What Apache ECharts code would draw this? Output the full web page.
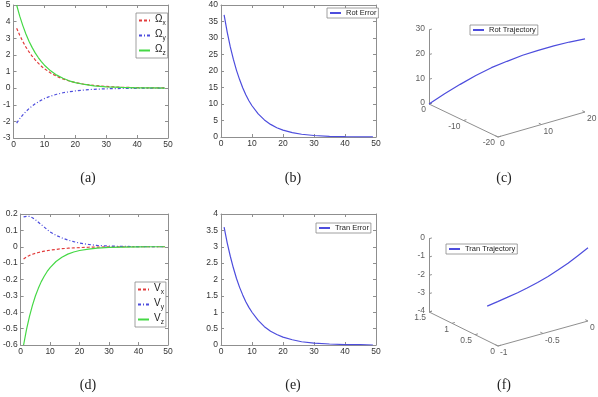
<!DOCTYPE html>
<html>
<head>
<meta charset="utf-8">
<script src="https://cdn.jsdelivr.net/npm/echarts@6/dist/echarts.min.js"></script>
<style>
html, body { margin: 0; padding: 0; background: #fff; }
#chart { width: 598px; height: 397px; }
</style>
</head>
<body>
<div id="chart"></div>
<script>
// time steps shared by the 2D panels
const tSteps = [1, 2, 3, 4, 5, 6, 7, 8, 9, 10, 12, 14, 16, 18, 20, 23, 26, 30, 35, 40, 45, 49]

// (a) angular velocity components
const omegaX = [3.60, 3.18, 2.80, 2.47, 2.18, 1.93, 1.70, 1.50, 1.32, 1.17, 0.91, 0.71, 0.55, 0.43, 0.33, 0.23, 0.16, 0.10, 0.05, 0.03, 0.01, 0.01]
const omegaY = [-2.10, -1.84, -1.61, -1.41, -1.23, -1.08, -0.94, -0.83, -0.72, -0.63, -0.48, -0.37, -0.28, -0.22, -0.17, -0.11, -0.07, -0.04, -0.02, -0.01, 0, 0]
const omegaZ = [5.00, 4.33, 3.76, 3.26, 2.82, 2.45, 2.12, 1.84, 1.59, 1.38, 1.04, 0.78, 0.59, 0.44, 0.33, 0.22, 0.14, 0.08, 0.04, 0.02, 0.01, 0]

// (b) rotation error
const rotError = [37.0, 31.8, 27.3, 23.5, 20.2, 17.4, 14.9, 12.8, 11.0, 9.47, 7.00, 5.17, 3.82, 2.82, 2.08, 1.32, 0.84, 0.46, 0.21, 0.10, 0.05, 0.02]

// (d) linear velocity components
const velX = [-0.075, -0.062, -0.053, -0.046, -0.040, -0.035, -0.031, -0.027, -0.024, -0.021, -0.016, -0.012, -0.009, -0.007, -0.005, -0.003, -0.002, -0.001, 0, 0, 0, 0]
const velY = [0.182, 0.186, 0.185, 0.177, 0.165, 0.150, 0.135, 0.120, 0.105, 0.090, 0.070, 0.054, 0.041, 0.031, 0.022, 0.014, 0.008, 0.004, 0.002, 0.001, 0, 0]
const velZ = [-0.600, -0.505, -0.425, -0.358, -0.301, -0.254, -0.213, -0.180, -0.151, -0.127, -0.090, -0.064, -0.045, -0.032, -0.023, -0.014, -0.008, -0.004, -0.002, -0.001, 0, 0]

// (e) translation error
const tranError = [3.60, 3.12, 2.71, 2.35, 2.03, 1.76, 1.53, 1.32, 1.15, 1.00, 0.75, 0.56, 0.42, 0.32, 0.24, 0.16, 0.10, 0.06, 0.03, 0.01, 0.01, 0]

// (c) rotation trajectory (3D)
const rotTrajX = [0, 2, 4, 6, 8, 10, 12, 14, 16, 18, 20]
const rotTrajY = [0, -2, -4, -6, -8, -10, -12, -14, -16, -18, -20]
const rotTrajZ = [0, 4.5, 8.6, 12.5, 16.0, 18.9, 21.7, 24.0, 26.1, 28.0, 29.6]
const rotXTicks = [0, 10, 20]
const rotYTicks = [-20, -10, 0]
const rotZTicks = [0, 10, 20, 30]

// (f) translation trajectory (3D)
const tranTrajX = [-0.66, -0.59, -0.53, -0.46, -0.40, -0.33, -0.26, -0.20, -0.13, -0.07, 0]
const tranTrajY = [0.90, 0.81, 0.72, 0.63, 0.54, 0.45, 0.36, 0.27, 0.18, 0.09, 0]
const tranTrajZ = [-3.40, -3.14, -2.88, -2.61, -2.32, -2.00, -1.66, -1.29, -0.89, -0.46, 0]
const tranXTicks = [-1, -0.5, 0]
const tranYTicks = [0, 0.5, 1, 1.5]
const tranZTicks = [-4, -3, -2, -1, 0]

const FONT = 'Liberation Sans, Arial, sans-serif'
const AX = '#8f8f8f'
const LAB = '#333'
const RED = '#e23c3c'
const BLUE = '#4d4ddd'
const GREEN = '#45d845'
const TICK_SIZE = 8.5

// oblique projection of the two 3D boxes (pixels inside their grid)
const rotView = { origin: [98, 137], ex: [4.35, -1.25], ey: [-3.45, -1.65], ez: [0, -2.47], min: [0, -20, 0], max: [20, 0, 30] }
const tranView = { origin: [98, 146], ex: [90, -25], ey: [-46, -22.7], ez: [0, -18.3], min: [-1, 0, -4], max: [0, 1.5, 0] }

function proj(v, p) {
  const dx = p[0] - v.min[0], dy = p[1] - v.min[1], dz = p[2] - v.min[2]
  return [
    v.origin[0] + dx * v.ex[0] + dy * v.ey[0] + dz * v.ez[0],
    v.origin[1] + dx * v.ex[1] + dy * v.ey[1] + dz * v.ez[1]
  ]
}

function unit(d, len) {
  const n = Math.hypot(d[0], d[1])
  return [d[0] / n * len, d[1] / n * len]
}

function xAxes(g, min, max, interval) {
  const base = { type: 'value', gridIndex: g, min, max, interval, splitLine: { show: false },
    axisLine: { onZero: false, lineStyle: { color: AX, width: 1 } },
    axisTick: { inside: true, length: 3, lineStyle: { color: AX } } }
  return [
    { ...base, position: 'bottom', axisLabel: { fontSize: TICK_SIZE, color: LAB, margin: 2, fontFamily: FONT, showMinLabel: true, showMaxLabel: true } },
    { ...base, position: 'top', axisLabel: { show: false } }
  ]
}

function yAxes(g, min, max, interval) {
  const base = { type: 'value', gridIndex: g, min, max, interval, splitLine: { show: false },
    axisLine: { onZero: false, lineStyle: { color: AX, width: 1 } },
    axisTick: { inside: true, length: 3, lineStyle: { color: AX } } }
  return [
    { ...base, position: 'left', axisLabel: { fontSize: TICK_SIZE, color: LAB, margin: 3, fontFamily: FONT, showMinLabel: true, showMaxLabel: true } },
    { ...base, position: 'right', axisLabel: { show: false } }
  ]
}

function hiddenAxes(g, w, h) {
  return {
    x: { type: 'value', gridIndex: g, min: 0, max: w, show: false },
    y: { type: 'value', gridIndex: g, min: 0, max: h, inverse: true, show: false }
  }
}

function lineSeries(name, axisIdx, values, color, dash) {
  return {
    name, type: 'line', xAxisIndex: axisIdx, yAxisIndex: axisIdx,
    data: tSteps.map((t, i) => [t, values[i]]),
    symbol: 'none', silent: true,
    lineStyle: { color, width: 1.2, type: dash || 'solid' },
    itemStyle: { color }
  }
}

function box3d(v, axisIdx, xt, yt, zt) {
  const [x0, y0, z0] = v.min
  const [x1, y1, z1] = v.max
  const segs = [
    [proj(v, [x0, y0, z0]), proj(v, [x1, y0, z0])],
    [proj(v, [x0, y0, z0]), proj(v, [x0, y1, z0])],
    [proj(v, [x0, y1, z0]), proj(v, [x0, y1, z1])]
  ]
  const labels = []
  const tx = unit(v.ey, 3), ty = unit(v.ex, 3)
  xt.forEach(t => {
    const p = proj(v, [t, y0, z0])
    segs.push([p, [p[0] + tx[0], p[1] + tx[1]]])
    labels.push({ value: p, label: { formatter: String(t), align: 'left', offset: [2, 7] } })
  })
  yt.forEach(t => {
    const p = proj(v, [x0, t, z0])
    segs.push([p, [p[0] + ty[0], p[1] + ty[1]]])
    labels.push({ value: p, label: { formatter: String(t), align: 'right', offset: [-3, 6] } })
  })
  zt.forEach(t => {
    const p = proj(v, [x0, y1, t])
    segs.push([p, [p[0] + ty[0], p[1] + ty[1]]])
    labels.push({ value: p, label: { formatter: String(t), align: 'right', offset: [-4, -1] } })
  })
  return [
    {
      type: 'lines', coordinateSystem: 'cartesian2d', xAxisIndex: axisIdx, yAxisIndex: axisIdx,
      data: segs.map(s => ({ coords: s })), silent: true,
      lineStyle: { color: AX, width: 1, opacity: 1 }
    },
    {
      type: 'scatter', xAxisIndex: axisIdx, yAxisIndex: axisIdx, symbolSize: 1,
      itemStyle: { color: 'rgba(0,0,0,0)' }, silent: true, data: labels,
      label: { show: true, position: 'inside', verticalAlign: 'middle', fontSize: TICK_SIZE, color: LAB, fontFamily: FONT }
    }
  ]
}

function trajSeries(name, axisIdx, v, xs, ys, zs) {
  return {
    name, type: 'line', xAxisIndex: axisIdx, yAxisIndex: axisIdx,
    data: xs.map((x, i) => proj(v, [x, ys[i], zs[i]])),
    symbol: 'none', silent: true,
    lineStyle: { color: BLUE, width: 1.2 }, itemStyle: { color: BLUE }
  }
}

function legendAt(names, left, top) {
  return {
    data: names, left, top, orient: 'vertical', selectedMode: false,
    itemWidth: 11, itemHeight: 8, itemGap: 2, padding: [1, 2, 1, 2],
    itemStyle: { opacity: 0 },
    borderColor: '#888', borderWidth: 0.8, backgroundColor: '#fff',
    textStyle: {
      fontSize: 7.5, color: '#222', fontFamily: FONT,
      rich: {
        b: { fontSize: 10, color: '#222', fontFamily: FONT, verticalAlign: 'top', lineHeight: 13 },
        s: { fontSize: 6.5, color: '#222', fontFamily: FONT, verticalAlign: 'bottom', lineHeight: 7 }
      }
    },
    formatter: name => name.length === 2 ? '{b|' + name[0] + '}{s|' + name[1] + '}' : name
  }
}

const hc = hiddenAxes(4, 198, 170)
const hf = hiddenAxes(5, 198, 170)

const option = {
  animation: false,
  backgroundColor: '#fff',
  grid: [
    { left: 12, top: 5, width: 156, height: 133 },
    { left: 221, top: 5, width: 155, height: 132 },
    { left: 12, top: 214, width: 156, height: 131 },
    { left: 221, top: 214, width: 155, height: 131 },
    { left: 400, top: 0, width: 198, height: 170 },
    { left: 400, top: 200, width: 198, height: 170 }
  ],
  xAxis: [
    ...xAxes(0, 0, 50, 10), ...xAxes(1, 0, 50, 10), ...xAxes(2, 0, 50, 10), ...xAxes(3, 0, 50, 10),
    hc.x, hf.x
  ],
  yAxis: [
    ...yAxes(0, -3, 5, 1), ...yAxes(1, 0, 40, 5), ...yAxes(2, -0.6, 0.2, 0.1), ...yAxes(3, 0, 4, 0.5),
    hc.y, hf.y
  ],
  legend: [
    legendAt(['Ωx', 'Ωy', 'Ωz'], 136, 13),
    legendAt(['Rot Error'], 327, 8),
    legendAt(['Rot Trajectory'], 470, 25),
    legendAt(['Vx', 'Vy', 'Vz'], 135, 282),
    legendAt(['Tran Error'], 316, 223),
    legendAt(['Tran Trajectory'], 446, 244)
  ],
  series: [
    lineSeries('Ωx', 0, omegaX, RED, [3, 2]),
    lineSeries('Ωy', 0, omegaY, BLUE, [3, 2, 1, 2]),
    lineSeries('Ωz', 0, omegaZ, GREEN),
    lineSeries('Rot Error', 2, rotError, BLUE),
    lineSeries('Vx', 4, velX, RED, [3, 2]),
    lineSeries('Vy', 4, velY, BLUE, [3, 2, 1, 2]),
    lineSeries('Vz', 4, velZ, GREEN),
    lineSeries('Tran Error', 6, tranError, BLUE),
    ...box3d(rotView, 8, rotXTicks, rotYTicks, rotZTicks),
    trajSeries('Rot Trajectory', 8, rotView, rotTrajX, rotTrajY, rotTrajZ),
    ...box3d(tranView, 9, tranXTicks, tranYTicks, tranZTicks),
    trajSeries('Tran Trajectory', 9, tranView, tranTrajX, tranTrajY, tranTrajZ)
  ],
  graphic: [
    ['(a)', 88, 178], ['(b)', 293, 178], ['(c)', 504, 178],
    ['(d)', 88, 385], ['(e)', 293, 385], ['(f)', 504, 385]
  ].map(([text, x, y]) => ({
    type: 'text', x, y, silent: true,
    style: { text, textAlign: 'center', textVerticalAlign: 'middle', fontSize: 14, fontFamily: 'Liberation Serif, serif', fill: '#222' }
  }))
}

const chart = echarts.init(document.getElementById('chart'))
chart.setOption(option)
</script>
</body>
</html>
